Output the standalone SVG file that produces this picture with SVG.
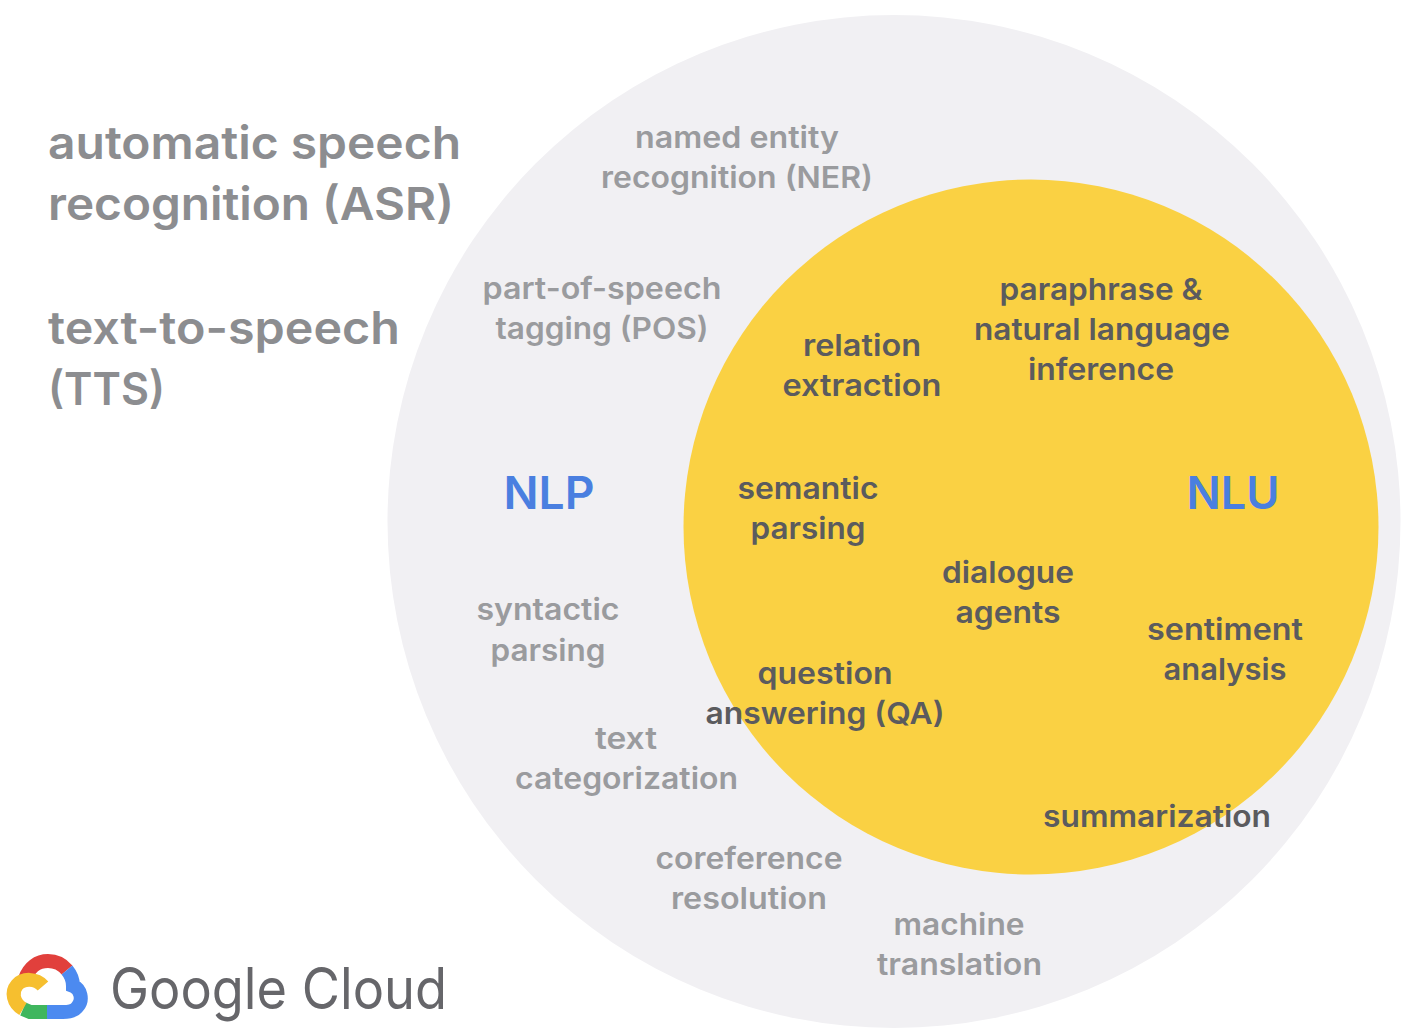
<svg xmlns="http://www.w3.org/2000/svg" width="1405" height="1035" viewBox="0 0 1405 1035">
<style>
text{font-family:"Inter","Roboto",sans-serif;text-anchor:middle;font-weight:600}
.g{font-size:30px;fill:#9a9b9e}
.d{font-size:30px;fill:#5b5b5e}
.h{font-size:45px;fill:#8c8d90;text-anchor:start}
.b{font-size:45px;fill:#4a7fe0;font-weight:600}
.c{font-family:"Inter","Roboto",sans-serif;font-size:57px;font-weight:400;fill:#66666a;text-anchor:start}
.arc{fill:none;stroke-width:14}
</style>
<rect width="1405" height="1035" fill="#ffffff"/>
<g id="nlp-circle"><circle cx="894" cy="521.500" r="506.500" fill="#f1f0f3"/></g>
<g id="nlu-circle"><circle cx="1031" cy="527" r="347.500" fill="#fad143"/></g>
<g id="asr"><text class="h" x="48" y="159" textLength="413" lengthAdjust="spacingAndGlyphs">automatic speech</text><text class="h" x="48" y="220" textLength="406" lengthAdjust="spacingAndGlyphs">recognition (ASR)</text></g>
<g id="tts"><text class="h" x="48" y="344" textLength="352" lengthAdjust="spacingAndGlyphs">text-to-speech</text><text class="h" x="48" y="405" textLength="117" lengthAdjust="spacingAndGlyphs">(TTS)</text></g>
<g id="ner"><text class="g" x="737" y="148" textLength="204" lengthAdjust="spacingAndGlyphs">named entity</text><text class="g" x="737" y="188" textLength="272" lengthAdjust="spacingAndGlyphs">recognition (NER)</text></g>
<g id="pos"><text class="g" x="602" y="299" textLength="239" lengthAdjust="spacingAndGlyphs">part-of-speech</text><text class="g" x="602" y="339" textLength="213" lengthAdjust="spacingAndGlyphs">tagging (POS)</text></g>
<g id="nlp"><text class="b" x="549" y="509" textLength="91" lengthAdjust="spacingAndGlyphs">NLP</text></g>
<g id="nlu"><text class="b" x="1233" y="509" textLength="93" lengthAdjust="spacingAndGlyphs">NLU</text></g>
<g id="syntactic"><text class="g" x="548" y="620" textLength="143" lengthAdjust="spacingAndGlyphs">syntactic</text><text class="g" x="548" y="661" textLength="115" lengthAdjust="spacingAndGlyphs">parsing</text></g>
<g id="textcat"><text class="g" x="626" y="749" textLength="62" lengthAdjust="spacingAndGlyphs">text</text><text class="g" x="626.500" y="789" textLength="223" lengthAdjust="spacingAndGlyphs">categorization</text></g>
<g id="coref"><text class="g" x="749" y="869" textLength="187" lengthAdjust="spacingAndGlyphs">coreference</text><text class="g" x="749" y="909" textLength="156" lengthAdjust="spacingAndGlyphs">resolution</text></g>
<g id="mt"><text class="g" x="959" y="935" textLength="131" lengthAdjust="spacingAndGlyphs">machine</text><text class="g" x="959.500" y="975" textLength="165" lengthAdjust="spacingAndGlyphs">translation</text></g>
<g id="relation"><text class="d" x="862" y="356" textLength="118" lengthAdjust="spacingAndGlyphs">relation</text><text class="d" x="862" y="396" textLength="159" lengthAdjust="spacingAndGlyphs">extraction</text></g>
<g id="paraphrase"><text class="d" x="1101" y="300" textLength="203" lengthAdjust="spacingAndGlyphs">paraphrase &amp;</text><text class="d" x="1102" y="340" textLength="256" lengthAdjust="spacingAndGlyphs">natural language</text><text class="d" x="1101" y="380" textLength="146" lengthAdjust="spacingAndGlyphs">inference</text></g>
<g id="semantic"><text class="d" x="808" y="499" textLength="141" lengthAdjust="spacingAndGlyphs">semantic</text><text class="d" x="808" y="539" textLength="115" lengthAdjust="spacingAndGlyphs">parsing</text></g>
<g id="dialogue"><text class="d" x="1008" y="583" textLength="132" lengthAdjust="spacingAndGlyphs">dialogue</text><text class="d" x="1008" y="623" textLength="105" lengthAdjust="spacingAndGlyphs">agents</text></g>
<g id="sentiment"><text class="d" x="1225" y="640" textLength="156" lengthAdjust="spacingAndGlyphs">sentiment</text><text class="d" x="1225" y="680" textLength="123" lengthAdjust="spacingAndGlyphs">analysis</text></g>
<g id="qa"><text class="d" x="825" y="684" textLength="135" lengthAdjust="spacingAndGlyphs">question</text><text class="d" x="825" y="724" textLength="239" lengthAdjust="spacingAndGlyphs">answering (QA)</text></g>
<g id="summarization"><text class="d" x="1157" y="827" textLength="228" lengthAdjust="spacingAndGlyphs">summarization</text></g>
<g id="google-cloud-logo">
<path d="M25 979 C29 967 38 961 48 961 C56 961 62 964 67 970" class="arc" stroke="#e1403c"/>
<path d="M67 970 C72 976 73 981 73 986 C81 989 83 1000 78 1006 C75 1011 69 1012 63 1012 L47 1012" class="arc" stroke="#4c8af0"/>
<path d="M47 1012 L30 1012 L23 1009" class="arc" stroke="#3fb65e"/>
<path d="M23 1009 C13 1003 11 992 17 985 C23 978 36 978 43 986" class="arc" stroke="#f6bf2f"/>
<text class="c" x="110" y="1009" textLength="337" lengthAdjust="spacingAndGlyphs">Google Cloud</text>
</g>
</svg>
